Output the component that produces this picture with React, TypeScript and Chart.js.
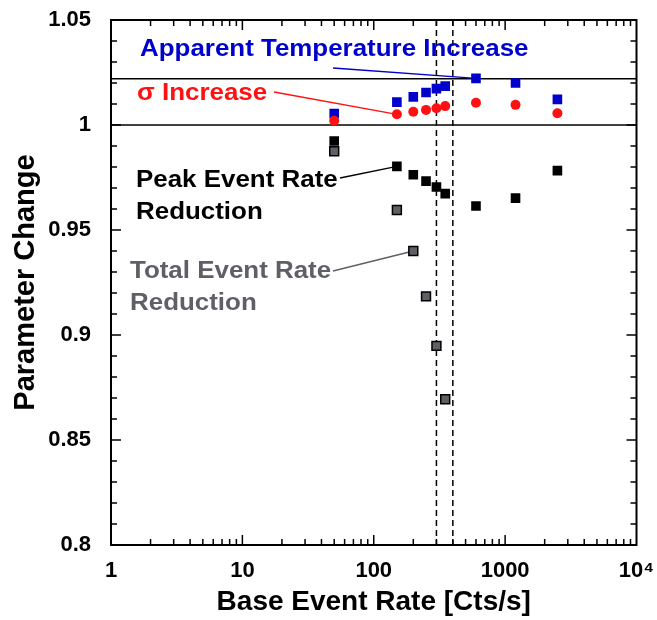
import React, { useEffect, useRef } from 'react';
import { Chart, registerables } from 'chart.js';

Chart.register(...registerables);

// ---------- data ----------
const rates = [50, 150, 200, 250, 300, 350, 600, 1200, 2500];
const tempIncrease = [1.0055, 1.0109, 1.0134, 1.0155, 1.0173, 1.0185, 1.0222, 1.02, 1.0122];
const sigmaIncrease = [1.002, 1.0051, 1.0063, 1.0072, 1.008, 1.009, 1.0106, 1.0096, 1.0056];
const peakReduction = [0.9924, 0.9803, 0.9763, 0.9733, 0.9705, 0.9673, 0.9614, 0.9652, 0.9783];
const totalRates = [50, 150, 200, 250, 300, 350];
const totalReduction = [0.9875, 0.9595, 0.94, 0.9184, 0.8948, 0.8694];
const refLevels = [1.0, 1.022];
const dashedRates = [300, 400];
const xTickLabels: Record<number, string> = { 1: '1', 10: '10', 100: '100', 1000: '1000', 10000: '10⁴' };
const yTickStep = 0.05;

const FONT = '"Liberation Sans", Arial, Helvetica, sans-serif';

// annotation text (layout only) + which data point the leader line goes to
const annotations = [
  { lines: ['Apparent Temperature Increase'], color: '#0000cc', x: 140, y: 49, lead: [333, 68], series: 'temp', idx: 6 },
  { lines: ['σ Increase'], color: '#ff1111', x: 137, y: 93, lead: [274, 92], series: 'sigma', idx: 1 },
  { lines: ['Peak Event Rate', 'Reduction'], color: '#000000', x: 136, y: 180, lead: [340, 178], series: 'peak', idx: 1 },
  { lines: ['Total Event Rate', 'Reduction'], color: '#5f5f66', x: 130, y: 271, lead: [333, 271], series: 'total', idx: 2 },
];

const seriesMap: Record<string, { xs: number[]; ys: number[] }> = {
  temp: { xs: rates, ys: tempIncrease },
  sigma: { xs: rates, ys: sigmaIncrease },
  peak: { xs: rates, ys: peakReduction },
  total: { xs: totalRates, ys: totalReduction },
};

const toPts = (xs: number[], ys: number[]) => xs.map((x, i) => ({ x, y: ys[i] }));

const decorPlugin = {
  id: 'decor',
  beforeDatasetsDraw(chart: any) {
    const { ctx, chartArea: a, scales } = chart;
    const xs = scales.x, ys = scales.y;
    ctx.save();
    ctx.strokeStyle = '#000';
    ctx.lineWidth = 1.5;
    refLevels.forEach((v) => {
      const py = ys.getPixelForValue(v);
      ctx.beginPath();
      ctx.moveTo(a.left, py);
      ctx.lineTo(a.right, py);
      ctx.stroke();
    });
    ctx.setLineDash([6, 4]);
    ctx.lineWidth = 1.5;
    dashedRates.forEach((v) => {
      const px = xs.getPixelForValue(v);
      ctx.beginPath();
      ctx.moveTo(px, a.top);
      ctx.lineTo(px, a.bottom);
      ctx.stroke();
    });
    ctx.setLineDash([]);
    annotations.forEach((an) => {
      const s = seriesMap[an.series];
      const px = xs.getPixelForValue(s.xs[an.idx]);
      const py = ys.getPixelForValue(s.ys[an.idx]);
      ctx.strokeStyle = an.color;
      ctx.lineWidth = 1.3;
      ctx.beginPath();
      ctx.moveTo(an.lead[0], an.lead[1]);
      ctx.lineTo(px, py);
      ctx.stroke();
    });
    ctx.restore();
  },
  afterDraw(chart: any) {
    const { ctx, chartArea: a, scales } = chart;
    const xs = scales.x, ys = scales.y;
    ctx.save();
    ctx.strokeStyle = '#000';
    ctx.lineWidth = 1.5;
    for (let i = 80; i <= 105; i++) {
      const py = ys.getPixelForValue(i / 100);
      const len = i % 5 === 0 ? 10 : 6;
      ctx.beginPath();
      ctx.moveTo(a.left, py);
      ctx.lineTo(a.left + len, py);
      ctx.moveTo(a.right, py);
      ctx.lineTo(a.right - len, py);
      ctx.stroke();
    }
    for (let d = 0; d < 4; d++) {
      for (let m = 1; m <= 9; m++) {
        const px = xs.getPixelForValue(m * Math.pow(10, d));
        const len = m === 1 ? 10 : 6;
        ctx.beginPath();
        ctx.moveTo(px, a.bottom);
        ctx.lineTo(px, a.bottom - len);
        ctx.moveTo(px, a.top);
        ctx.lineTo(px, a.top + len);
        ctx.stroke();
      }
    }
    ctx.lineWidth = 2;
    ctx.strokeRect(a.left, a.top, a.right - a.left, a.bottom - a.top);
    annotations.forEach((an) => {
      an.lines.forEach((t, k) => {
        ctx.save();
        ctx.font = `bold 24px ${FONT}`;
        ctx.fillStyle = an.color;
        ctx.textBaseline = 'middle';
        ctx.textAlign = 'left';
        ctx.translate(an.x, an.y + k * 32);
        ctx.scale(1.08, 1);
        ctx.fillText(t, 0, 0);
        ctx.restore();
      });
    });
    ctx.restore();
  },
};

export default function App() {
  const ref = useRef<HTMLCanvasElement | null>(null);
  useEffect(() => {
    if (!ref.current) return;
    const chart = new Chart(ref.current, {
      type: 'scatter',
      data: {
        datasets: [
          {
            label: 'σ Increase',
            data: toPts(rates, sigmaIncrease),
            pointStyle: 'circle',
            pointRadius: 5,
            backgroundColor: '#ff1111',
            borderColor: '#ff1111',
            borderWidth: 0,
          },
          {
            label: 'Apparent Temperature Increase',
            data: toPts(rates, tempIncrease),
            pointStyle: 'rect',
            pointRadius: 6.8,
            backgroundColor: '#0000cc',
            borderColor: '#0000cc',
            borderWidth: 0,
          },
          {
            label: 'Peak Event Rate Reduction',
            data: toPts(rates, peakReduction),
            pointStyle: 'rect',
            pointRadius: 6.8,
            backgroundColor: '#000000',
            borderColor: '#000000',
            borderWidth: 0,
          },
          {
            label: 'Total Event Rate Reduction',
            data: toPts(totalRates, totalReduction),
            pointStyle: 'rect',
            pointRadius: 6.3,
            backgroundColor: '#5f5f66',
            borderColor: '#000000',
            borderWidth: 1.5,
          },
        ],
      },
      options: {
        responsive: false,
        animation: false,
        events: [],
        layout: { padding: { left: 0, right: 20.5, top: 20, bottom: 0 } },
        plugins: { legend: { display: false }, tooltip: { enabled: false } },
        scales: {
          x: {
            type: 'logarithmic',
            min: 1,
            max: 10000,
            grid: { display: false, drawTicks: false },
            border: { display: false },
            afterFit: (s: any) => {
              s.height = 75;
              s.paddingLeft = 0;
              s.paddingRight = 0;
            },
            ticks: {
              autoSkip: false,
              maxRotation: 0,
              padding: 13,
              color: '#000',
              font: { family: FONT, size: 22, weight: 'bold' },
              callback: (v: any) => xTickLabels[Math.round(Number(v))] ?? '',
            },
            title: {
              display: true,
              text: 'Base Event Rate [Cts/s]',
              color: '#000',
              font: { family: FONT, size: 28, weight: 'bold' },
              padding: { top: 0, bottom: 1 },
            },
          },
          y: {
            type: 'linear',
            min: 0.8,
            max: 1.05,
            grid: { display: false, drawTicks: false },
            border: { display: false },
            afterFit: (s: any) => {
              s.width = 111;
              s.paddingTop = 0;
              s.paddingBottom = 0;
            },
            ticks: {
              stepSize: yTickStep,
              padding: 20,
              color: '#000',
              font: { family: FONT, size: 22, weight: 'bold' },
              callback: (v: any) => String(Math.round(Number(v) * 100) / 100),
            },
            title: {
              display: true,
              text: 'Parameter Change',
              color: '#000',
              font: { family: FONT, size: 29, weight: 'bold' },
              padding: { top: 9, bottom: 0 },
            },
          },
        },
      },
      plugins: [decorPlugin],
    });
    return () => chart.destroy();
  }, []);
  return (
    <div style={{ position: 'fixed', left: 0, top: 0, width: 657, height: 620, background: '#fff' }}>
      <canvas ref={ref} width={657} height={620} style={{ display: 'block' }} />
    </div>
  );
}
